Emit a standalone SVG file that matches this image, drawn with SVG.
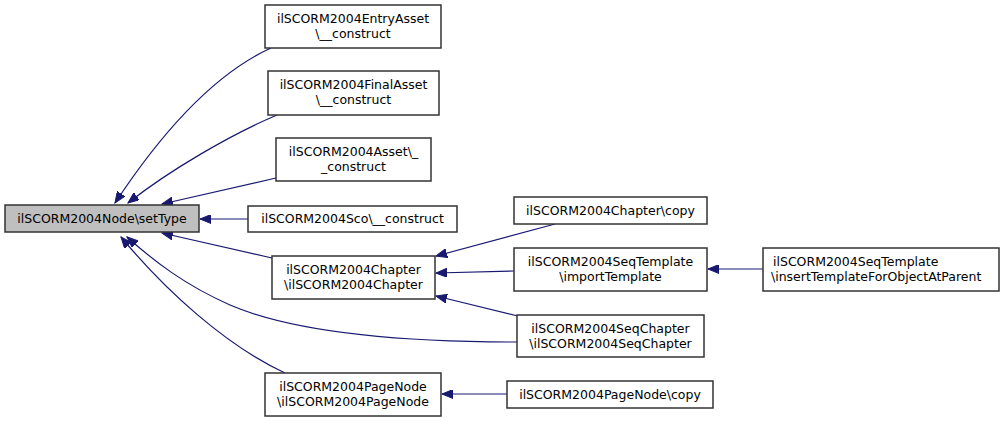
<svg xmlns="http://www.w3.org/2000/svg" width="1005" height="421" viewBox="0 0 1005 421">
<style>
rect.n{fill:#ffffff;stroke:#333333;stroke-width:1.5}
rect.m{fill:#bfbfbf;stroke:#333333;stroke-width:1.5}
text{font-family:"DejaVu Sans","Liberation Sans",sans-serif;font-size:12.5px;fill:#000000;text-anchor:middle}
text.l{text-anchor:start}
path.e{fill:none;stroke:#191970;stroke-width:1.2;marker-end:url(#ah)}
</style>
<defs>
<marker id="ah" markerUnits="userSpaceOnUse" markerWidth="12" markerHeight="9" refX="11" refY="4.5" orient="auto">
<path d="M0,0 L11,4.5 L0,9 z" fill="#191970" stroke="#191970" stroke-width="1"/>
</marker>
</defs>
<rect width="1005" height="421" fill="#ffffff"/>
<g id="edges">
<path class="e" d="M271,48 C205,78 150,150 115,203"/>
<path class="e" d="M277,115 C230,135 170,170 128,203"/>
<path class="e" d="M276,178 L162,204"/>
<path class="e" d="M248,219 L200,219"/>
<path class="e" d="M272,258 L162,233"/>
<path class="e" d="M517,342 C420,342 300,335 230,305 C185,285 155,262 127,237"/>
<path class="e" d="M285,373 C225,345 165,290 121,237"/>
<path class="e" d="M555,224 L436,256"/>
<path class="e" d="M515,271 L436,273"/>
<path class="e" d="M518,316 L436,296"/>
<path class="e" d="M763,269 L708,269"/>
<path class="e" d="M507,394 L442,394"/>
</g>
<g id="node-main">
<rect class="m" x="5" y="205" width="194" height="27"/>
<text x="102" y="223">ilSCORM2004Node\setType</text>
</g>
<g id="node-entryasset">
<rect class="n" x="265" y="5" width="176" height="43"/>
<text x="353" y="23">ilSCORM2004EntryAsset</text>
<text x="353" y="38">\__construct</text>
</g>
<g id="node-finalasset">
<rect class="n" x="268" y="71" width="171" height="44"/>
<text x="353.5" y="89">ilSCORM2004FinalAsset</text>
<text x="353.5" y="104">\__construct</text>
</g>
<g id="node-asset">
<rect class="n" x="276" y="138" width="155" height="43"/>
<text x="353.5" y="156">ilSCORM2004Asset\_</text>
<text x="353.5" y="171">_construct</text>
</g>
<g id="node-sco">
<rect class="n" x="248" y="206" width="209" height="26"/>
<text x="352.5" y="223">ilSCORM2004Sco\__construct</text>
</g>
<g id="node-chapter">
<rect class="n" x="272" y="256" width="163" height="43"/>
<text x="353.5" y="274">ilSCORM2004Chapter</text>
<text x="353.5" y="289">\ilSCORM2004Chapter</text>
</g>
<g id="node-pagenode">
<rect class="n" x="265" y="373" width="176" height="43"/>
<text x="353" y="391">ilSCORM2004PageNode</text>
<text x="353" y="406">\ilSCORM2004PageNode</text>
</g>
<g id="node-chaptercopy">
<rect class="n" x="514" y="197" width="193" height="27"/>
<text x="610.5" y="215">ilSCORM2004Chapter\copy</text>
</g>
<g id="node-importtemplate">
<rect class="n" x="514" y="248" width="193" height="43"/>
<text x="610.5" y="266">ilSCORM2004SeqTemplate</text>
<text x="610.5" y="281">\importTemplate</text>
</g>
<g id="node-seqchapter">
<rect class="n" x="517" y="315" width="187" height="42"/>
<text x="610.5" y="333">ilSCORM2004SeqChapter</text>
<text x="610.5" y="348">\ilSCORM2004SeqChapter</text>
</g>
<g id="node-pagenodecopy">
<rect class="n" x="507" y="381" width="206" height="27"/>
<text x="610" y="399">ilSCORM2004PageNode\copy</text>
</g>
<g id="node-inserttemplate">
<rect class="n" x="763" y="248" width="236" height="43"/>
<text class="l" x="773" y="266">ilSCORM2004SeqTemplate</text>
<text class="l" x="771" y="281">\insertTemplateForObjectAtParent</text>
</g>
</svg>
